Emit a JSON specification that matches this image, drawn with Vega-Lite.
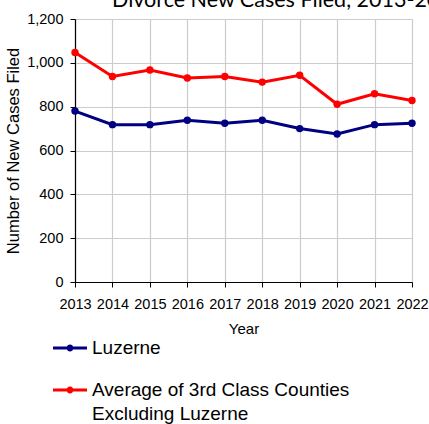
{
  "$schema": "https://vega.github.io/schema/vega-lite/v6.json",
  "width": 337,
  "height": 263,
  "autosize": {"type": "none"},
  "padding": {"left": 75, "top": 19, "right": 17, "bottom": 142},
  "background": "white",
  "title": {
    "text": "Divorce New Cases Filed, 2013-2022",
    "anchor": "start",
    "frame": "group",
    "dx": 37,
    "offset": -17,
    "baseline": "alphabetic",
    "font": "Lato",
    "fontSize": 21.5,
    "fontWeight": "normal",
    "color": "#000000"
  },
  "data": {
    "values": [
      {"year": "2013", "series": "Luzerne", "cases": 780},
      {"year": "2014", "series": "Luzerne", "cases": 718},
      {"year": "2015", "series": "Luzerne", "cases": 718},
      {"year": "2016", "series": "Luzerne", "cases": 738},
      {"year": "2017", "series": "Luzerne", "cases": 724},
      {"year": "2018", "series": "Luzerne", "cases": 738},
      {"year": "2019", "series": "Luzerne", "cases": 700},
      {"year": "2020", "series": "Luzerne", "cases": 675},
      {"year": "2021", "series": "Luzerne", "cases": 718},
      {"year": "2022", "series": "Luzerne", "cases": 724},
      {"year": "2013", "series": "Average of 3rd Class Counties Excluding Luzerne", "cases": 1047},
      {"year": "2014", "series": "Average of 3rd Class Counties Excluding Luzerne", "cases": 938},
      {"year": "2015", "series": "Average of 3rd Class Counties Excluding Luzerne", "cases": 967},
      {"year": "2016", "series": "Average of 3rd Class Counties Excluding Luzerne", "cases": 931},
      {"year": "2017", "series": "Average of 3rd Class Counties Excluding Luzerne", "cases": 938},
      {"year": "2018", "series": "Average of 3rd Class Counties Excluding Luzerne", "cases": 912},
      {"year": "2019", "series": "Average of 3rd Class Counties Excluding Luzerne", "cases": 943},
      {"year": "2020", "series": "Average of 3rd Class Counties Excluding Luzerne", "cases": 811},
      {"year": "2021", "series": "Average of 3rd Class Counties Excluding Luzerne", "cases": 859},
      {"year": "2022", "series": "Average of 3rd Class Counties Excluding Luzerne", "cases": 828}
    ]
  },
  "mark": {"type": "line", "strokeWidth": 3, "point": {"filled": true, "size": 55}},
  "encoding": {
    "x": {
      "field": "year",
      "type": "ordinal",
      "scale": {"type": "point", "padding": 0},
      "axis": {
        "title": "Year",
        "labelAngle": 0,
        "grid": true,
        "gridColor": "#cccccc",
        "gridWidth": 1.2,
        "domainColor": "#000000",
        "domainWidth": 1.2,
        "tickColor": "#000000",
        "tickSize": 5,
        "labelPadding": 10,
        "labelFont": "Liberation Sans",
        "labelFontSize": 14.5,
        "labelColor": "#000000",
        "titleFont": "Liberation Sans",
        "titleFontSize": 15,
        "titleFontWeight": "normal",
        "titleColor": "#000000",
        "titlePadding": 11
      }
    },
    "y": {
      "field": "cases",
      "type": "quantitative",
      "scale": {"domain": [0, 1200], "nice": false},
      "axis": {
        "title": "Number of New Cases Filed",
        "values": [0, 200, 400, 600, 800, 1000, 1200],
        "format": ",.0f",
        "grid": true,
        "gridColor": "#cccccc",
        "gridWidth": 1.2,
        "domainColor": "#000000",
        "domainWidth": 1.2,
        "tickColor": "#000000",
        "tickSize": 5,
        "labelPadding": 7,
        "labelFont": "Liberation Sans",
        "labelFontSize": 14.5,
        "labelColor": "#000000",
        "titleFont": "Liberation Sans",
        "titleFontSize": 16.5,
        "titleFontWeight": "normal",
        "titleColor": "#000000",
        "titlePadding": 5
      }
    },
    "color": {
      "field": "series",
      "type": "nominal",
      "scale": {
        "domain": ["Luzerne", "Average of 3rd Class Counties Excluding Luzerne"],
        "range": ["#000080", "#ff0000"]
      },
      "legend": {
        "title": null,
        "orient": "none",
        "legendX": -22,
        "legendY": 312,
        "direction": "vertical",
        "padding": 0,
        "symbolType": "M-1,-0.09H1V0.09H-1Z M-0.2,0A0.2,0.2,0,1,1,0.2,0A0.2,0.2,0,1,1,-0.2,0Z",
        "symbolSize": 1156,
        "symbolStrokeWidth": 0,
        "labelFont": "Liberation Sans",
        "labelFontSize": 19,
        "labelColor": "#000000",
        "labelLimit": 400,
        "labelOffset": 5,
        "rowPadding": 15,
        "labelExpr": "datum.label == 'Luzerne' ? 'Luzerne' : ['Average of 3rd Class Counties', 'Excluding Luzerne']",
        "encode": {
          "symbols": {
            "update": {
              "fill": {"scale": "color", "field": "value"},
              "strokeWidth": {"value": 0}
            }
          },
          "labels": {
            "update": {
              "lineHeight": {"value": 24}
            }
          }
        }
      }
    }
  }
}
